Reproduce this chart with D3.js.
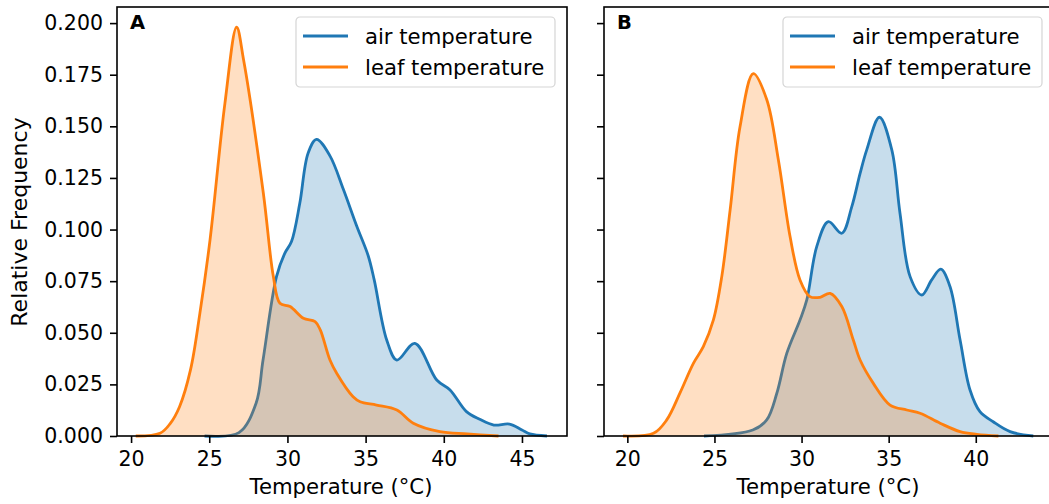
<!DOCTYPE html>
<html>
<head>
<meta charset="utf-8">
<script src="https://cdn.jsdelivr.net/npm/d3@7"></script>
<style>
  body { margin: 0; background: #fff; }
  svg { display: block; font-family: "DejaVu Sans", sans-serif; }
</style>
</head>
<body>
<svg id="chart" width="1049" height="504"></svg>
<script>
// density curves (temperature °C, relative frequency)
const airA_t = [24.7, 26.9, 28.0, 28.44, 29.3, 29.83, 30.26, 30.79, 31.32, 31.86, 32.72, 33.57, 34.43, 35.17, 35.55, 36.35, 37.0, 38.15, 39.55, 40.4, 41.45, 42.3, 43.2, 44.2, 45.0, 45.5, 46.6];
const airA_v = [0, 0.0016, 0.016, 0.0368, 0.0772, 0.0885, 0.0942, 0.1127, 0.137, 0.1437, 0.1357, 0.1196, 0.1017, 0.0872, 0.0756, 0.0465, 0.0368, 0.0449, 0.0271, 0.0223, 0.0118, 0.0081, 0.0053, 0.0058, 0.0029, 0.001, 0];
const leafA_t = [20.3, 21.85, 22.5, 23.1, 23.8, 24.4, 25.05, 26.0, 26.75, 27.2, 28.46, 29.1, 29.52, 30.17, 31.02, 31.77, 32.1, 32.72, 33.15, 34.2, 34.65, 35.7, 37.0, 38.05, 39.75, 41.5, 43.5];
const leafA_v = [0, 0.0013, 0.006, 0.0142, 0.032, 0.0594, 0.095, 0.161, 0.198, 0.182, 0.1176, 0.0772, 0.0643, 0.0627, 0.057, 0.0554, 0.0514, 0.0368, 0.0304, 0.019, 0.0166, 0.015, 0.0126, 0.0062, 0.0021, 0.001, 0];

const airB_t = [24.4, 27.2, 28.0, 28.58, 29.15, 29.91, 30.3, 30.87, 31.54, 32.31, 32.88, 33.36, 33.74, 34.47, 35.18, 35.65, 36.23, 36.9, 37.47, 37.99, 38.52, 39.1, 39.67, 40.24, 41.0, 41.97, 43.3];
const airB_v = [0, 0.0029, 0.0078, 0.0207, 0.04, 0.0562, 0.0659, 0.0917, 0.1038, 0.0982, 0.111, 0.1272, 0.1386, 0.1544, 0.1386, 0.1079, 0.0772, 0.0683, 0.0756, 0.0808, 0.0724, 0.0465, 0.0223, 0.0118, 0.0069, 0.0021, 0];
const leafB_t = [19.75, 21.5, 22.26, 23.03, 23.79, 24.36, 24.94, 25.42, 25.9, 26.47, 27.23, 28.0, 28.67, 29.34, 29.91, 30.48, 31.06, 31.64, 32.31, 32.97, 33.36, 34.12, 35.08, 36.04, 36.8, 37.95, 39.1, 40.06, 41.3];
const leafB_v = [0, 0.0013, 0.0078, 0.021, 0.0352, 0.0433, 0.0562, 0.0772, 0.1095, 0.1499, 0.1755, 0.163, 0.1337, 0.0966, 0.0756, 0.0675, 0.0672, 0.0691, 0.0627, 0.0465, 0.0368, 0.0255, 0.015, 0.0126, 0.011, 0.0062, 0.0021, 0.0008, 0];

const seriesNames = ["air temperature", "leaf temperature"];
const seriesColors = ["#1f77b4", "#ff7f0e"];
const panelLabels = ["A", "B"];
const xTicks = [[20, 25, 30, 35, 40, 45], [20, 25, 30, 35, 40]];
const yTicks = [0, 0.025, 0.05, 0.075, 0.1, 0.125, 0.15, 0.175, 0.2];

const zip = (t, v) => t.map((x, i) => ({ x: x, y: v[i] }));

const panels = [
    { left: 117, xDomain: [19.1, 47.88], curves: [zip(airA_t, airA_v), zip(leafA_t, leafA_v)], yLabels: true },
    { left: 604, xDomain: [18.66, 44.49], curves: [zip(airB_t, airB_v), zip(leafB_t, leafB_v)], yLabels: false }
];

const plotTop = 7, plotBottom = 436, pw = 450;
const svg = d3.select("#chart");
const tickFs = 20.5, labelFs = 21.2;
const lw = 2.8;

const y = d3.scaleLinear().domain([0, 0.2078]).range([plotBottom, plotTop]);

panels.forEach((p, pi) => {
    const x = d3.scaleLinear().domain(p.xDomain).range([p.left, p.left + pw]);
    const g = svg.append("g");

    const area = d3.area().x(d => x(d.x)).y0(y(0)).y1(d => y(d.y)).curve(d3.curveCatmullRom.alpha(0.5));
    const line = d3.line().x(d => x(d.x)).y(d => y(d.y)).curve(d3.curveCatmullRom.alpha(0.5));

    p.curves.forEach((c, ci) => {
        g.append("path").datum(c).attr("d", area)
            .attr("fill", seriesColors[ci]).attr("fill-opacity", 0.25);
        g.append("path").datum(c).attr("d", line)
            .attr("fill", "none").attr("stroke", seriesColors[ci])
            .attr("stroke-width", lw).attr("stroke-linejoin", "round");
    });

    // axes
    const xa = g.append("g").attr("transform", `translate(0,${plotBottom})`)
        .call(d3.axisBottom(x).tickValues(xTicks[pi]).tickSize(7).tickPadding(8).tickFormat(d3.format("d")));
    const ya = g.append("g").attr("transform", `translate(${p.left},0)`)
        .call(d3.axisLeft(y).tickValues(yTicks).tickSize(7).tickPadding(7)
            .tickFormat(p.yLabels ? d3.format(".3f") : () => ""));
    [xa, ya].forEach(a => {
        a.select(".domain").remove();
        a.selectAll("line").attr("stroke", "#000").attr("stroke-width", 1.6);
        a.selectAll("text").attr("font-size", tickFs).attr("fill", "#000")
            .attr("font-family", "DejaVu Sans, sans-serif");
    });

    // frame
    g.append("rect").attr("x", p.left).attr("y", plotTop).attr("width", pw).attr("height", plotBottom - plotTop)
        .attr("fill", "none").attr("stroke", "#000").attr("stroke-width", 1.6);

    g.append("text").attr("x", p.left + 13).attr("y", 29)
        .attr("font-size", 19.5).attr("font-weight", "bold").text(panelLabels[pi]);

    g.append("text").attr("x", p.left + pw / 2 - 1).attr("y", 494).attr("text-anchor", "middle")
        .attr("font-size", labelFs).text("Temperature (°C)");

    // legend
    const lx = p.left + pw - 12 - 259, ly = 17;
    const lg = g.append("g").attr("transform", `translate(${lx},${ly})`);
    lg.append("rect").attr("width", 259).attr("height", 70).attr("rx", 4)
        .attr("fill", "#fff").attr("fill-opacity", 0.8).attr("stroke", "#d5d5d5").attr("stroke-width", 1.2);
    seriesNames.forEach((n, i) => {
        const yy = 19 + i * 31;
        lg.append("line").attr("x1", 7).attr("x2", 52).attr("y1", yy).attr("y2", yy)
            .attr("stroke", seriesColors[i]).attr("stroke-width", lw);
        lg.append("text").attr("x", 69).attr("y", yy + 7.5).attr("font-size", labelFs).text(n);
    });
});

svg.append("text").attr("transform", `translate(27,222) rotate(-90)`)
    .attr("text-anchor", "middle").attr("font-size", 22).text("Relative Frequency");
</script>
</body>
</html>
